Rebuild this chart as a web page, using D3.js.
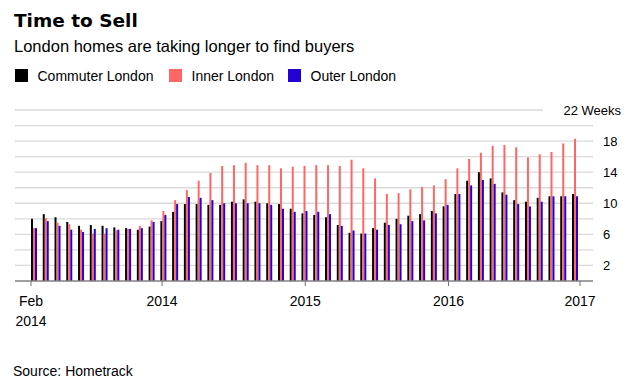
<!DOCTYPE html>
<html>
<head>
<meta charset="utf-8">
<script src="https://cdn.jsdelivr.net/npm/d3@7"></script>
<style>
  body { margin: 0; background: #fff; }
  text { font-family: "Liberation Sans", Arial, sans-serif; fill: #000; }
</style>
</head>
<body>
<div id="chart"></div>
<script>
// weeks to sell, monthly, Feb 2013 .. Dec 2016
const months = d3.timeMonth.range(new Date(2013, 1, 1), new Date(2017, 0, 1));

const commuter = [8.0, 8.6, 8.2, 7.6, 7.1, 7.2, 7.1, 6.9, 6.8, 6.6, 7.0, 7.7,
  8.9, 9.9, 9.9, 9.8, 9.8, 10.2, 10.5, 10.2, 10.0, 9.9, 9.3, 8.7,
  8.5, 8.2, 7.2, 6.2, 6.1, 6.8, 7.5, 8.0, 8.4, 8.6, 9.0, 9.6,
  11.2, 12.9, 14.0, 13.2, 11.4, 10.4, 10.2, 10.7, 10.9, 10.9, 11.2];
const inner = [6.8, 8.1, 7.5, 7.3, 6.6, 6.1, 6.1, 6.5, 6.7, 7.1, 7.8, 9.0,
  10.4, 11.7, 12.9, 13.9, 14.8, 14.9, 15.2, 14.9, 14.9, 14.5, 14.7, 14.8,
  14.9, 14.9, 14.8, 15.6, 14.5, 13.2, 11.2, 11.3, 11.8, 12.1, 12.3, 13.1,
  14.5, 15.7, 16.5, 17.4, 17.5, 17.2, 15.9, 16.3, 16.6, 17.7, 18.3];
const outer = [6.8, 7.7, 7.1, 6.6, 6.3, 6.7, 6.8, 6.6, 6.7, 6.8, 7.6, 8.5,
  9.9, 10.8, 10.7, 10.4, 10.0, 10.0, 10.0, 10.0, 9.8, 9.3, 8.9, 9.0,
  8.9, 8.6, 7.1, 6.5, 6.1, 6.6, 7.2, 7.3, 7.7, 7.8, 8.7, 9.8,
  11.2, 12.3, 13.0, 12.5, 11.1, 9.9, 9.6, 10.2, 10.9, 10.9, 10.9];

const seriesNames = ["Commuter London", "Inner London", "Outer London"];
const seriesColors = ["#000000", "#ff6666", "#2200d8"];

const yTicks = [2, 6, 10, 14, 18, 22];
const gridValues = d3.range(2, 23, 2);
const xTickDates = [new Date(2013, 1, 1), new Date(2014, 0, 1), new Date(2015, 0, 1), new Date(2016, 0, 1), new Date(2016, 11, 1)];
const xTickLabels = [["Feb", "2014"], ["2014"], ["2015"], ["2016"], ["2017"]];

(function () {
  let width = 641,
    height = 382,
    left = 15,
    right = 593;

  let svg = d3.select("#chart").append("svg")
    .attr("width", width)
    .attr("height", height);

  let x0 = d3.scaleBand().domain(months).range([31, 578]).paddingInner(0.49).paddingOuter(0);
  let x1 = d3.scaleBand().domain(seriesNames).range([0, x0.bandwidth()]);
  let xTime = d3.scaleTime().domain([xTickDates[0], xTickDates[4]]).range([31, 580]);
  let y = d3.scaleLinear().domain([0, 22]).range([281, 110]);

  // titles
  svg.append("text").attr("x", 14).attr("y", 27)
    .style("font-family", "'DejaVu Sans', sans-serif")
    .style("font-weight", "bold").style("font-size", "18.5px")
    .text("Time to Sell");
  svg.append("text").attr("x", 14).attr("y", 51.5)
    .style("font-size", "16.5px")
    .text("London homes are taking longer to find buyers");

  // legend
  let legendX = [15, 169, 288];
  let legend = svg.selectAll(".legend").data(seriesNames).enter().append("g")
    .attr("class", "legend")
    .attr("transform", (d, i) => `translate(${legendX[i]}, 69)`);
  legend.append("rect").attr("width", 13).attr("height", 13)
    .attr("fill", (d, i) => seriesColors[i]);
  legend.append("text").attr("x", 22.5).attr("y", 12)
    .style("font-size", "14px").text(d => d);

  // grid
  svg.append("g").selectAll("line").data(gridValues).enter().append("line")
    .attr("x1", left)
    .attr("x2", d => d === 22 ? 543 : right)
    .attr("y1", d => y(d)).attr("y2", d => y(d))
    .attr("stroke", "#dadada").attr("stroke-width", 1.3);

  svg.append("g").selectAll("text").data(yTicks).enter().append("text")
    .attr("x", d => d === 22 ? 621 : 603)
    .attr("y", d => y(d))
    .attr("dy", "0.35em")
    .attr("text-anchor", d => d === 22 ? "end" : "start")
    .style("font-size", "13px")
    .text(d => d === 22 ? d + " Weeks" : d);

  // bars
  let series = [commuter, inner, outer];
  let groups = svg.append("g").selectAll("g").data(months).enter().append("g")
    .attr("transform", d => `translate(${x0(d)}, 0)`);
  groups.selectAll("rect")
    .data((d, i) => seriesNames.map((name, k) => ({ name: name, value: series[k][i], color: seriesColors[k] })))
    .enter().append("rect")
    .attr("x", d => x1(d.name))
    .attr("width", x1.bandwidth())
    .attr("y", d => y(d.value))
    .attr("height", d => y(0) - y(d.value))
    .attr("fill", d => d.color);

  // x axis
  svg.append("line")
    .attr("x1", left).attr("x2", right)
    .attr("y1", y(0)).attr("y2", y(0))
    .attr("stroke", "#808080").attr("stroke-width", 1.6);

  let ticks = svg.append("g").selectAll("g").data(xTickDates).enter().append("g")
    .attr("transform", d => `translate(${xTime(d)}, ${y(0)})`);
  ticks.append("line").attr("y1", 0).attr("y2", 5)
    .attr("stroke", "#707070").attr("stroke-width", 1);
  ticks.append("text")
    .attr("text-anchor", "middle")
    .style("font-size", "14px")
    .selectAll("tspan").data((d, i) => xTickLabels[i]).enter().append("tspan")
    .attr("x", 0)
    .attr("y", (d, i) => 24.5 + i * 20)
    .text(d => d);

  svg.append("text").attr("x", 13).attr("y", 376)
    .style("font-size", "14px")
    .text("Source: Hometrack");
})();
</script>
</body>
</html>
